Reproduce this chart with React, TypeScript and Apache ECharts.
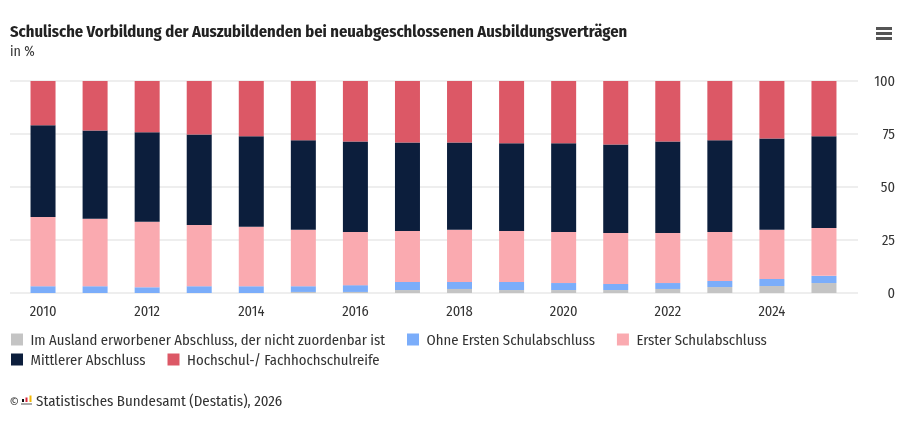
import React, { useEffect, useRef } from "react";
import * as echarts from "echarts";

const years = ["2010","2011","2012","2013","2014","2015","2016","2017","2018","2019","2020","2021","2022","2023","2024","2025"];
const ausland = [0, 0, 0, 0, 0, 0.5, 0.5, 1.4, 1.9, 1.4, 1.4, 1.4, 1.9, 2.8, 3.3, 4.7];
const ohneErsten = [3.2, 3.2, 2.7, 3.2, 3.2, 2.7, 3.2, 3.8, 3.3, 3.8, 3.3, 2.9, 2.8, 2.9, 3.3, 3.4];
const ersterAbschluss = [32.7, 31.8, 30.9, 28.9, 28.0, 26.6, 25.1, 24.1, 24.6, 24.1, 24.1, 24.0, 23.6, 23.1, 23.2, 22.6];
const mittlerer = [43.2, 41.7, 42.2, 42.7, 42.7, 42.2, 42.7, 41.7, 41.2, 41.3, 41.8, 41.8, 43.2, 43.2, 43.1, 43.2];
const hochschulreife = [20.9, 23.3, 24.2, 25.2, 26.1, 28.0, 28.5, 29.0, 29.0, 29.4, 29.4, 29.9, 28.5, 28.0, 27.1, 26.1];
const yTicks = [0, 25, 50, 75, 100];

const seriesNames = [
  "Im Ausland erworbener Abschluss, der nicht zuordenbar ist",
  "Ohne Ersten Schulabschluss",
  "Erster Schulabschluss",
  "Mittlerer Abschluss",
  "Hochschul-/ Fachhochschulreife",
];
const colors = ["#c4c4c4", "#7badfa", "#faaab0", "#0c1e3c", "#dc5866"];

const FONT = "'Fira Sans Condensed', 'Liberation Sans Narrow', 'DejaVu Sans Condensed', 'Roboto Condensed', 'Noto Sans', sans-serif";

export default function App() {
  const ref = useRef<HTMLDivElement>(null);
  useEffect(() => {
    if (!ref.current) return;
    const chart = echarts.init(ref.current, undefined, { renderer: "svg" });
    const data = [ausland, ohneErsten, ersterAbschluss, mittlerer, hochschulreife];
    const legendBase = {
      left: 11,
      padding: 0,
      itemWidth: 12,
      itemHeight: 12,
      itemGap: 22,
      icon: "rect",
      textStyle: { fontSize: 14.7, color: "#333", fontFamily: FONT, padding: [0, 0, 0, 2.5] },
    };
    chart.setOption({
      animation: false,
      textStyle: { fontFamily: FONT },
      title: {
        text: "Schulische Vorbildung der Auszubildenden bei neuabgeschlossenen Ausbildungsverträgen",
        subtext: "in %",
        left: 10,
        top: 23,
        itemGap: 4,
        padding: 0,
        textStyle: { fontSize: 16.5, fontWeight: "bold", color: "#222", fontFamily: FONT },
        subtextStyle: { fontSize: 14, color: "#333", fontFamily: FONT },
      },
      legend: [
        { ...legendBase, data: seriesNames.slice(0, 3), top: 332 },
        { ...legendBase, data: seriesNames.slice(3), top: 352 },
      ],
      grid: [
        { left: 17, right: 60, top: 81, bottom: 129, containLabel: false },
        { left: 10, right: 52, top: 81, bottom: 129, containLabel: false },
      ],
      xAxis: [
        {
          type: "category",
          gridIndex: 0,
          data: years,
          axisLine: { show: false },
          axisTick: { show: false },
          axisLabel: { interval: 1, color: "#333", fontSize: 14.5, margin: 10, fontFamily: FONT },
        },
        {
          type: "value",
          gridIndex: 1,
          min: 0,
          max: 1,
          show: false,
        },
      ],
      yAxis: [
        {
          type: "value",
          gridIndex: 0,
          position: "right",
          min: yTicks[0],
          max: yTicks[yTicks.length - 1],
          interval: 25,
          axisLine: { show: false },
          axisTick: { show: false },
          axisLabel: { show: false },
          splitLine: { show: false },
        },
        {
          type: "value",
          gridIndex: 1,
          position: "right",
          min: yTicks[0],
          max: yTicks[yTicks.length - 1],
          interval: 25,
          axisLine: { show: false },
          axisTick: { show: false },
          axisLabel: { align: "right", margin: 37, color: "#333", fontSize: 14.5, fontFamily: FONT },
          splitLine: { lineStyle: { color: "#eeeeee", width: 2 } },
        },
      ],
      series: seriesNames.map((name, i) => ({
        name,
        type: "bar",
        stack: "total",
        xAxisIndex: 0,
        yAxisIndex: 0,
        barWidth: 25,
        data: data[i],
        itemStyle: { color: colors[i] },
      })),
      graphic: [
        { type: "rect", shape: { x: 876, y: 27, width: 16, height: 3 }, style: { fill: "#555" } },
        { type: "rect", shape: { x: 876, y: 32, width: 16, height: 3 }, style: { fill: "#555" } },
        { type: "rect", shape: { x: 876, y: 37, width: 16, height: 3 }, style: { fill: "#555" } },
        { type: "text", x: 9.5, y: 401, style: { text: "©", fontSize: 13, fill: "#333", verticalAlign: "middle", fontFamily: FONT } },
        { type: "rect", shape: { x: 22, y: 399, width: 2, height: 3 }, style: { fill: "#111" } },
        { type: "rect", shape: { x: 25.5, y: 397.5, width: 2, height: 4.5 }, style: { fill: "#d7263d" } },
        { type: "rect", shape: { x: 29.5, y: 395.5, width: 2, height: 6.5 }, style: { fill: "#f2b705" } },
        { type: "rect", shape: { x: 21, y: 403, width: 11, height: 2 }, style: { fill: "#aaa" } },
        { type: "text", x: 36, y: 401, style: { text: "Statistisches Bundesamt (Destatis), 2026", fontSize: 14.9, fill: "#333", verticalAlign: "middle", fontFamily: FONT } },
      ],
    });
    return () => chart.dispose();
  }, []);
  return <div ref={ref} style={{ position: "fixed", left: 0, top: 0, width: 910, height: 422 }} />;
}
